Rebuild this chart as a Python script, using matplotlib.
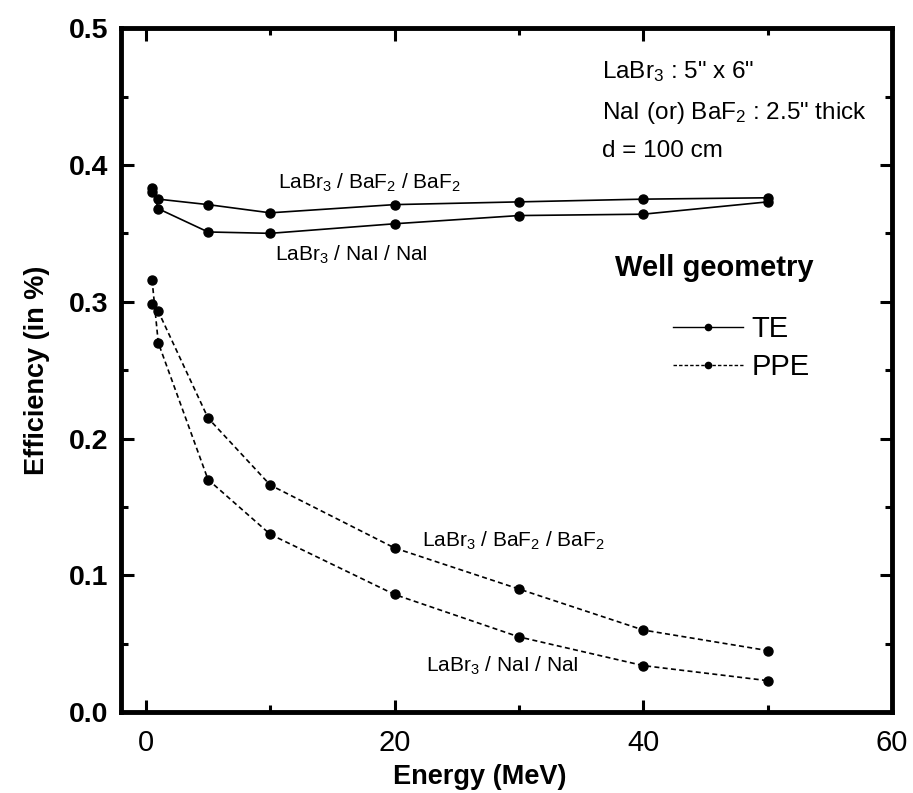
import matplotlib.pyplot as plt
from matplotlib.lines import Line2D
from matplotlib.ticker import MultipleLocator

plt.rcParams['font.family'] = ['Liberation Sans', 'DejaVu Sans']
plt.rcParams['mathtext.fontset'] = 'custom'
plt.rcParams['mathtext.rm'] = 'Liberation Sans'
plt.rcParams['mathtext.it'] = 'Liberation Sans:italic'

# Energies (MeV) for the well geometry runs
energy = [0.5, 1, 5, 10, 20, 30, 40, 50]

# Total efficiency (TE) in %
te_baf2 = [0.380, 0.375, 0.371, 0.365, 0.371, 0.373, 0.375, 0.376]
te_nai = [0.383, 0.368, 0.351, 0.350, 0.357, 0.363, 0.364, 0.373]

# Photopeak efficiency (PPE) in %
ppe_baf2 = [0.298, 0.293, 0.215, 0.166, 0.120, 0.090, 0.060, 0.045]
ppe_nai = [0.316, 0.270, 0.170, 0.130, 0.086, 0.055, 0.034, 0.023]

fig = plt.figure(figsize=(9.13, 7.93), dpi=100)
ax = fig.add_axes([0.1325, 0.102, 0.8445, 0.8625])

solid = dict(color='black', lw=1.2, marker='o', ms=6.5, mfc='black', mec='black')
dashed = dict(color='black', lw=1.2, ls=(0, (3.0, 2.0)), marker='o', ms=6.5,
              mfc='black', mec='black')

ax.plot(energy, te_baf2, **solid)
ax.plot(energy, te_nai, **solid)
ax.plot(energy, ppe_baf2, **dashed)
ax.plot(energy, ppe_nai, **dashed)

ax.set_xlim(-2, 60)
ax.set_ylim(0.0, 0.5)
ax.xaxis.set_major_locator(MultipleLocator(20))
ax.xaxis.set_minor_locator(MultipleLocator(10))
ax.yaxis.set_major_locator(MultipleLocator(0.1))
ax.yaxis.set_minor_locator(MultipleLocator(0.05))
ax.yaxis.set_major_formatter(plt.FormatStrFormatter('%.1f'))

ax.tick_params(which='both', direction='in', top=True, right=True, width=2.2)
ax.tick_params(which='major', length=9)
ax.tick_params(which='minor', length=5)
ax.tick_params(axis='x', which='major', labelsize=21, pad=12)
ax.tick_params(axis='y', which='major', labelsize=20.5, pad=9)
for lab in ax.get_yticklabels():
    lab.set_fontweight('bold')
for sp in ax.spines.values():
    sp.set_linewidth(3.5)

ax.set_xlabel('Energy (MeV)', fontsize=19.5, fontweight='bold')
ax.xaxis.set_label_coords(0.465, -0.076)
ax.set_ylabel('Efficiency (in %)', fontsize=19.5, fontweight='bold', labelpad=14)

lbl = dict(fontsize=15, va='center', ha='left')
ax.text(10.6, 0.387, r'LaBr$_3$ / BaF$_2$ / BaF$_2$', **lbl)
ax.text(10.4, 0.334, r'LaBr$_3$ / NaI / NaI', **lbl)
ax.text(22.2, 0.1255, r'LaBr$_3$ / BaF$_2$ / BaF$_2$', **lbl)
ax.text(22.5, 0.034, r'LaBr$_3$ / NaI / NaI', **lbl)

info = dict(fontsize=17.5, va='center', ha='left')
ax.text(36.7, 0.468, r'LaBr$_3$ : 5" x 6"', **info)
ax.text(36.7, 0.438, r'NaI (or) BaF$_2$ : 2.5" thick', **info)
ax.text(36.7, 0.410, 'd = 100 cm', **info)
ax.text(37.7, 0.3245, 'Well geometry', fontsize=21, fontweight='bold',
        va='center', ha='left')

handles = [
    Line2D([], [], color='black', lw=1.0, marker='o', ms=4.5),
    Line2D([], [], color='black', lw=1.0, ls=(0, (2.5, 1.5)), marker='o', ms=4.5),
]
ax.legend(handles, ['TE', 'PPE'], loc='center left', bbox_to_anchor=(0.716, 0.532),
          frameon=False, fontsize=21, handlelength=2.4, handletextpad=0.3,
          labelspacing=0.35, borderpad=0, borderaxespad=0)

fig.savefig('out.png', dpi=100)
